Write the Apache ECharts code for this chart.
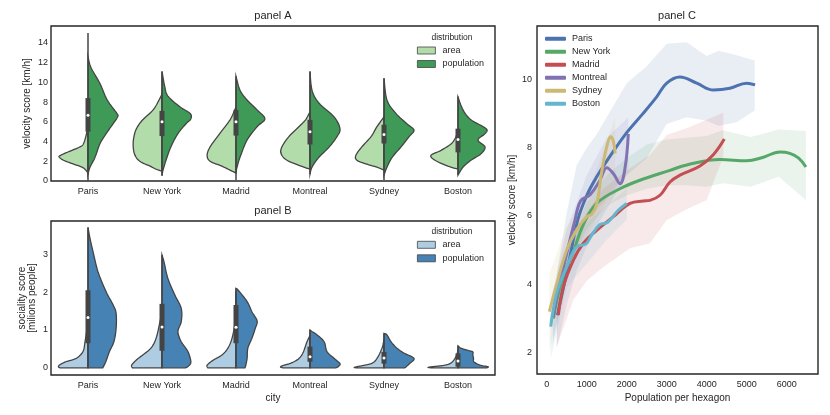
<!DOCTYPE html>
<html>
<head>
<meta charset="utf-8">
<script src="https://cdn.jsdelivr.net/npm/echarts@6/dist/echarts.min.js"></script>
<style>
  html, body { margin: 0; background: #fff; }
  #chart { width: 830px; height: 415px; }
</style>
</head>
<body>
<div id="chart"></div>
<script>
const cities = ['Paris', 'New York', 'Madrid', 'Montreal', 'Sydney', 'Boston'];

// violin outlines: [value, half width in category units], top to bottom
const velAreaShape = [
  [[5.8, 0], [4.8, 0.02], [3.8, 0.06], [3.45, 0.11], [2.94, 0.27], [2.6, 0.37], [2.43, 0.39], [2.1, 0.33], [1.75, 0.21], [1.4, 0.08], [1.1, 0.03], [0.8, 0]],
  [[8.8, 0], [8.2, 0.04], [7.2, 0.12], [6.2, 0.26], [5.5, 0.33], [4.8, 0.37], [3.75, 0.39], [2.7, 0.37], [2.0, 0.30], [1.5, 0.16], [1.2, 0.08], [1.0, 0]],
  [[7.5, 0], [6.2, 0.08], [4.8, 0.22], [3.45, 0.35], [2.6, 0.39], [2.0, 0.35], [1.5, 0.19], [1.0, 0.054], [0.8, 0]],
  [[7.0, 0], [6.2, 0.06], [5.5, 0.15], [4.5, 0.285], [3.45, 0.38], [2.75, 0.39], [2.1, 0.31], [1.5, 0.12], [1.2, 0]],
  [[6.5, 0], [5.5, 0.095], [4.5, 0.175], [3.45, 0.30], [2.6, 0.38], [2.1, 0.365], [1.7, 0.23], [1.4, 0.095], [1.1, 0]],
  [[5.0, 0], [4.3, 0.04], [3.75, 0.095], [3.1, 0.23], [2.6, 0.365], [2.1, 0.31], [1.5, 0.135], [1.2, 0]]
];
const velPopShape = [
  [[12.6, 0], [11.5, 0.04], [9.9, 0.16], [8.2, 0.26], [6.85, 0.39], [6.5, 0.40], [5.8, 0.34], [4.8, 0.245], [3.75, 0.16], [2.4, 0.095], [1.4, 0.027], [0.7, 0]],
  [[11.1, 0], [9.6, 0.036], [8.6, 0.08], [7.5, 0.245], [6.85, 0.38], [6.3, 0.39], [5.8, 0.325], [4.8, 0.215], [3.45, 0.12], [2.1, 0.054], [1.1, 0.014], [0.6, 0]],
  [[10.6, 0], [9.2, 0.054], [8.2, 0.15], [7.2, 0.285], [6.3, 0.39], [5.5, 0.285], [4.15, 0.15], [2.4, 0.054], [1.4, 0.014], [0.9, 0]],
  [[11.1, 0], [9.2, 0.027], [7.9, 0.12], [6.5, 0.325], [5.3, 0.405], [4.5, 0.365], [3.45, 0.26], [2.4, 0.12], [1.4, 0.027], [0.7, 0]],
  [[10.4, 0], [8.2, 0.04], [6.85, 0.16], [5.8, 0.31], [5.15, 0.405], [4.5, 0.34], [3.45, 0.23], [2.4, 0.11], [1.4, 0.04], [0.6, 0]],
  [[8.5, 0], [7.2, 0.068], [6.2, 0.175], [5.3, 0.38], [4.8, 0.365], [4.15, 0.27], [3.45, 0.365], [2.75, 0.31], [2.1, 0.175], [1.4, 0.068], [0.6, 0]]
];
// [whisker low, q1, median, q3, whisker high]
const velBox = [
  [0, 5.0, 6.65, 8.4, 15.0],
  [0.5, 4.55, 6.0, 7.1, 11.1],
  [0.1, 4.6, 6.0, 7.2, 10.6],
  [0.7, 3.7, 4.98, 6.2, 11.1],
  [0.1, 3.8, 4.7, 5.7, 10.4],
  [0.6, 2.9, 4.2, 5.3, 8.55]
];

const socAreaShape = [
  [[1.4, 0], [1.04, 0.014], [0.69, 0.04], [0.43, 0.068], [0.25, 0.16], [0.16, 0.30], [0.08, 0.38], [0.03, 0.40], [0, 0.38]],
  [[1.5, 0], [1.22, 0.027], [0.78, 0.08], [0.52, 0.15], [0.34, 0.26], [0.2, 0.35], [0.07, 0.41], [0, 0.40]],
  [[2.0, 0], [1.22, 0.014], [0.78, 0.054], [0.52, 0.11], [0.34, 0.19], [0.2, 0.31], [0.07, 0.39], [0, 0.38]],
  [[0.85, 0], [0.69, 0.04], [0.34, 0.11], [0.16, 0.215], [0.04, 0.39], [0, 0.37]],
  [[0.75, 0], [0.52, 0.027], [0.25, 0.095], [0.11, 0.175], [0.02, 0.39], [0, 0.37]],
  [[0.45, 0], [0.25, 0.04], [0.09, 0.135], [0.02, 0.39], [0, 0.37]]
];
const socPopShape = [
  [[3.71, 0], [3.42, 0.027], [3.07, 0.068], [2.54, 0.135], [2.01, 0.245], [1.66, 0.34], [1.44, 0.38], [1.04, 0.38], [0.69, 0.35], [0.43, 0.29], [0.16, 0.24], [0, 0.2]],
  [[2.98, 0], [2.8, 0.027], [2.36, 0.08], [1.92, 0.175], [1.57, 0.26], [1.22, 0.26], [0.96, 0.215], [0.69, 0.26], [0.43, 0.35], [0.16, 0.39], [0.05, 0.36], [0, 0.32]],
  [[2.1, 0], [2.05, 0.03], [1.75, 0.15], [1.48, 0.215], [1.24, 0.285], [1.04, 0.26], [0.78, 0.215], [0.52, 0.16], [0.25, 0.15], [0.05, 0.13], [0, 0.12]],
  [[1.0, 0], [0.96, 0.027], [0.87, 0.095], [0.69, 0.19], [0.43, 0.23], [0.25, 0.325], [0.11, 0.405], [0.03, 0.38], [0, 0.35]],
  [[0.91, 0], [0.87, 0.04], [0.69, 0.095], [0.52, 0.175], [0.39, 0.27], [0.25, 0.405], [0.12, 0.35], [0.03, 0.30], [0, 0.28]],
  [[0.58, 0], [0.52, 0.04], [0.46, 0.135], [0.42, 0.2], [0.34, 0.2], [0.25, 0.21], [0.16, 0.215], [0.07, 0.30], [0.03, 0.405], [0, 0.39]]
];
const socBox = [
  [0, 0.65, 1.33, 2.05, 3.71],
  [0, 0.45, 1.08, 1.69, 2.98],
  [0, 0.65, 1.07, 1.66, 2.1],
  [0, 0.16, 0.29, 0.56, 1.0],
  [0, 0.11, 0.26, 0.42, 0.91],
  [0, 0.03, 0.18, 0.38, 0.58]
];

// panel C: smoothed lines
const lineX = [
  [267, 400, 580, 780, 1000, 1250, 1550, 2000, 2400, 2750, 3000, 3330, 3750, 4170, 4580, 5000, 5210],
  [170, 250, 420, 665, 915, 1250, 1830, 2330, 3080, 3500, 4330, 5000, 5400, 5830, 6080, 6300, 6480],
  [290, 415, 665, 915, 1250, 1665, 2082, 2415, 2582, 2832, 3082, 3332, 3832, 4165, 4440],
  [150, 300, 500, 700, 850, 1080, 1332, 1500, 1665, 1832, 1957, 2040],
  [65, 250, 500, 750, 1000, 1125, 1250, 1375, 1500, 1600, 1665, 1710],
  [100, 250, 500, 750, 915, 1000, 1125, 1332, 1500, 1582, 1790, 2000]
];
const lineY = [
  [3.09, 3.8, 4.8, 5.9, 6.6, 7.15, 7.7, 8.45, 9.0, 9.5, 9.9, 10.08, 9.9, 9.7, 9.75, 9.9, 9.85],
  [3.0, 3.5, 4.25, 4.95, 5.75, 6.37, 6.8, 7.05, 7.34, 7.5, 7.66, 7.62, 7.72, 7.88, 7.84, 7.7, 7.44],
  [3.09, 3.92, 4.7, 5.2, 5.58, 5.98, 6.37, 6.44, 6.46, 6.61, 7.0, 7.2, 7.47, 7.8, 8.26],
  [3.0, 3.9, 4.9, 5.85, 6.45, 6.62, 7.05, 7.42, 7.25, 6.95, 7.4, 8.41],
  [3.19, 4.0, 5.0, 5.6, 5.98, 6.05, 6.35, 7.3, 8.03, 8.33, 8.2, 7.84],
  [2.75, 3.73, 4.51, 5.1, 5.15, 5.2, 5.44, 5.75, 5.8, 5.88, 6.17, 6.37]
];
// panel C: confidence bands
const bandX = [
  [250, 500, 750, 1000, 1250, 1500, 2000, 2500, 3000, 3500, 4000, 4300, 4750, 5200],
  [170, 500, 1000, 1500, 2000, 2500, 3000, 3500, 4000, 4400, 5100, 5800, 6480],
  [250, 665, 1000, 1415, 2082, 2582, 3000, 3500, 4000, 4415],
  [150, 500, 1000, 1500, 2040],
  [65, 500, 1000, 1375, 1710],
  [100, 500, 1000, 1500, 2000]
];
const bandHi = [
  [4.3, 6.1, 7.5, 8.0, 8.4, 8.9, 9.9, 10.4, 11.06, 11.1, 10.7, 10.85, 10.72, 10.57],
  [3.6, 5.0, 6.4, 7.2, 7.7, 8.1, 8.25, 8.3, 8.35, 8.52, 8.32, 8.54, 8.5],
  [3.9, 5.4, 6.1, 6.8, 7.4, 7.8, 8.38, 8.58, 8.83, 9.03],
  [3.8, 5.6, 7.2, 8.3, 8.9],
  [4.3, 5.7, 6.6, 7.8, 8.9],
  [3.6, 5.1, 5.8, 6.3, 6.8]
];
const bandLo = [
  [2.1, 3.4, 4.4, 5.1, 5.7, 6.2, 7.2, 7.7, 8.7, 8.9, 8.8, 8.65, 8.75, 9.1],
  [2.4, 4.4, 5.6, 6.3, 6.6, 6.8, 6.9, 6.9, 6.86, 6.96, 6.86, 7.15, 6.47],
  [2.16, 3.53, 4.1, 4.5, 5.05, 5.2, 5.88, 6.2, 6.47, 7.74],
  [2.2, 4.2, 5.9, 6.5, 7.3],
  [2.0, 4.3, 5.4, 6.2, 7.0],
  [1.8, 3.9, 4.6, 5.3, 5.9]
];

const lineColors = ['#4c72b0', '#55a868', '#c44e52', '#8172b2', '#ccb974', '#64b5cd'];
const greens = ['#b2dcaa', '#3f9a57'];
const blues = ['#aecde2', '#4682b4'];
const edge = '#444444';
const ink = '#262626';
const font = '"Liberation Sans", Arial, sans-serif';

// catmull-rom through pixel points, only for drawing the outline smoothly
function spline(pts, n) {
  const out = [];
  for (let i = 0; i < pts.length - 1; i++) {
    const p0 = pts[Math.max(i - 1, 0)], p1 = pts[i], p2 = pts[i + 1], p3 = pts[Math.min(i + 2, pts.length - 1)];
    for (let k = 0; k < n; k++) {
      const t = k / n, t2 = t * t, t3 = t2 * t;
      const f = j => 0.5 * ((2 * p1[j]) + (-p0[j] + p2[j]) * t + (2 * p0[j] - 5 * p1[j] + 4 * p2[j] - p3[j]) * t2 + (-p0[j] + 3 * p1[j] - 3 * p2[j] + p3[j]) * t3);
      out.push([f(0), f(1)]);
    }
  }
  out.push(pts[pts.length - 1]);
  return out;
}

function halfViolin(shapes, boxes, side, fill) {
  return function (params, api) {
    const i = api.value(0);
    const band = api.size([1, 0])[0];
    const prof = shapes[i];
    const pts = prof.map(p => {
      const c = api.coord([i, p[0]]);
      return [c[0] + side * p[1] * band, c[1]];
    });
    const top = api.coord([i, prof[0][0]]);
    const bot = api.coord([i, prof[prof.length - 1][0]]);
    const children = [{
      type: 'polygon',
      shape: { points: [top].concat(spline(pts, 8)).concat([bot]) },
      style: { fill: fill, stroke: edge, lineWidth: 1.3 }
    }];
    if (boxes) {
      const b = boxes[i];
      const lo = api.coord([i, b[0]]), q1 = api.coord([i, b[1]]), md = api.coord([i, b[2]]);
      const q3 = api.coord([i, b[3]]), hi = api.coord([i, b[4]]);
      children.push(
        { type: 'line', shape: { x1: lo[0], y1: lo[1], x2: hi[0], y2: hi[1] }, style: { stroke: edge, lineWidth: 1.5 } },
        { type: 'line', shape: { x1: q1[0], y1: q1[1], x2: q3[0], y2: q3[1] }, style: { stroke: edge, lineWidth: 5 } },
        { type: 'circle', shape: { cx: md[0], cy: md[1], r: 1.5 }, style: { fill: '#ffffff' } }
      );
    }
    return { type: 'group', children: children };
  };
}

function bandItem(params, api) {
  const i = api.value(2);
  const upper = bandX[i].map((x, k) => api.coord([x, bandHi[i][k]]));
  const lower = bandX[i].map((x, k) => api.coord([x, bandLo[i][k]])).reverse();
  return {
    type: 'polygon',
    shape: { points: upper.concat(lower) },
    style: { fill: lineColors[i], opacity: 0.12 }
  };
}

const catData = cities.map((c, i) => [i, 0]);
const intLabel = v => (Math.abs(v - Math.round(v)) < 1e-6 ? String(Math.round(v)) : '');

function catAxis(grid, name) {
  return {
    type: 'category', gridIndex: grid, data: cities, boundaryGap: true,
    axisLine: { show: false }, axisTick: { show: false }, splitLine: { show: false },
    axisLabel: { color: ink, fontSize: 9, margin: 6 },
    name: name, nameLocation: 'middle', nameGap: 18, nameMoveOverlap: false,
    nameTextStyle: { color: ink, fontSize: 10 }
  };
}
function valAxis(grid, extra) {
  return Object.assign({
    type: 'value', gridIndex: grid, scale: true,
    axisLine: { show: false }, axisTick: { show: false }, splitLine: { show: false },
    axisLabel: { color: ink, fontSize: 9, margin: 3, formatter: intLabel },
    nameLocation: 'middle', nameGap: 20, nameMoveOverlap: false,
    nameTextStyle: { color: ink, fontSize: 10 }
  }, extra);
}

const gridStyle = { show: true, borderColor: ink, borderWidth: 1.4, backgroundColor: '#fff' };

const series = [
  { type: 'custom', name: 'area', xAxisIndex: 0, yAxisIndex: 0, data: catData, renderItem: halfViolin(velAreaShape, null, -1, greens[0]), itemStyle: { color: greens[0] } },
  { type: 'custom', name: 'population', xAxisIndex: 0, yAxisIndex: 0, data: catData, renderItem: halfViolin(velPopShape, velBox, 1, greens[1]), itemStyle: { color: greens[1] } },
  { type: 'custom', name: 'area', xAxisIndex: 1, yAxisIndex: 1, data: catData, renderItem: halfViolin(socAreaShape, null, -1, blues[0]), itemStyle: { color: blues[0] } },
  { type: 'custom', name: 'population', xAxisIndex: 1, yAxisIndex: 1, data: catData, renderItem: halfViolin(socPopShape, socBox, 1, blues[1]), itemStyle: { color: blues[1] } },
  {
    type: 'custom', xAxisIndex: 2, yAxisIndex: 2,
    data: cities.map((c, i) => [bandX[i][0], bandLo[i][0], i]),
    renderItem: bandItem, silent: true
  }
];
cities.forEach((c, i) => {
  series.push({
    type: 'line', name: c, xAxisIndex: 2, yAxisIndex: 2,
    data: lineX[i].map((x, k) => [x, lineY[i][k]]),
    smooth: 0.4, showSymbol: false, symbol: 'none',
    lineStyle: { color: lineColors[i], width: 3 },
    itemStyle: { color: lineColors[i] }
  });
});

function patchLegend(top, colors) {
  return {
    orient: 'vertical', left: 417, top: top, padding: 0, itemWidth: 18, itemHeight: 7, itemGap: 4.5,
    icon: 'rect', selectedMode: false,
    textStyle: { color: ink, fontSize: 9, padding: [0, 0, 0, 2] },
    data: [
      { name: 'area', itemStyle: { color: colors[0], borderColor: edge, borderWidth: 0.8 } },
      { name: 'population', itemStyle: { color: colors[1], borderColor: edge, borderWidth: 0.8 } }
    ]
  };
}

const chart = echarts.init(document.getElementById('chart'));
chart.setOption({
  animation: false,
  backgroundColor: '#fff',
  textStyle: { fontFamily: font },
  grid: [
    Object.assign({ left: 51, top: 26, width: 444, height: 155 }, gridStyle),
    Object.assign({ left: 51, top: 221, width: 444, height: 154 }, gridStyle),
    Object.assign({ left: 537, top: 26, width: 281, height: 348 }, gridStyle)
  ],
  xAxis: [
    catAxis(0, ''),
    catAxis(1, 'city'),
    valAxis(2, {
      min: -243, max: 6783, splitNumber: 7, name: 'Population per hexagon', nameGap: 19,
      axisLabel: { color: ink, fontSize: 9, margin: 6, formatter: v => (Math.abs(v % 1000) < 1e-6 ? String(v) : '') }
    })
  ],
  yAxis: [
    valAxis(0, { min: 0, max: 15.7, interval: 2, name: 'velocity score [km/h]', nameGap: 19 }),
    valAxis(1, { min: -0.19, max: 3.88, splitNumber: 4, name: 'sociality score\n[milions people]', nameGap: 14 }),
    valAxis(2, {
      min: 1.36, max: 11.58, splitNumber: 5, name: 'velocity score [km/h]', nameGap: 20,
      axisLabel: { color: ink, fontSize: 9, margin: 5, formatter: v => (Math.abs(v - Math.round(v)) < 1e-6 && Math.round(v) % 2 === 0 ? String(v) : '') }
    })
  ],
  legend: [
    patchLegend(46, greens),
    patchLegend(240.3, blues),
    {
      orient: 'vertical', left: 545, top: 34.2, padding: 0, itemWidth: 21, itemHeight: 4, itemGap: 4,
      icon: 'roundRect', selectedMode: false,
      textStyle: { color: ink, fontSize: 9, padding: [0, 0, 0, 1] },
      data: cities
    }
  ],
  graphic: [
    { type: 'text', x: 273, y: 16, style: { text: 'panel A', font: '11px ' + font, fill: ink, textAlign: 'center', textVerticalAlign: 'middle' } },
    { type: 'text', x: 273, y: 211, style: { text: 'panel B', font: '11px ' + font, fill: ink, textAlign: 'center', textVerticalAlign: 'middle' } },
    { type: 'text', x: 677, y: 16, style: { text: 'panel C', font: '11px ' + font, fill: ink, textAlign: 'center', textVerticalAlign: 'middle' } },
    { type: 'text', x: 452, y: 38, style: { text: 'distribution', font: '8.5px ' + font, fill: ink, textAlign: 'center', textVerticalAlign: 'middle' } },
    { type: 'text', x: 452, y: 232, style: { text: 'distribution', font: '8.5px ' + font, fill: ink, textAlign: 'center', textVerticalAlign: 'middle' } }
  ],
  series: series
});
</script>
</body>
</html>
